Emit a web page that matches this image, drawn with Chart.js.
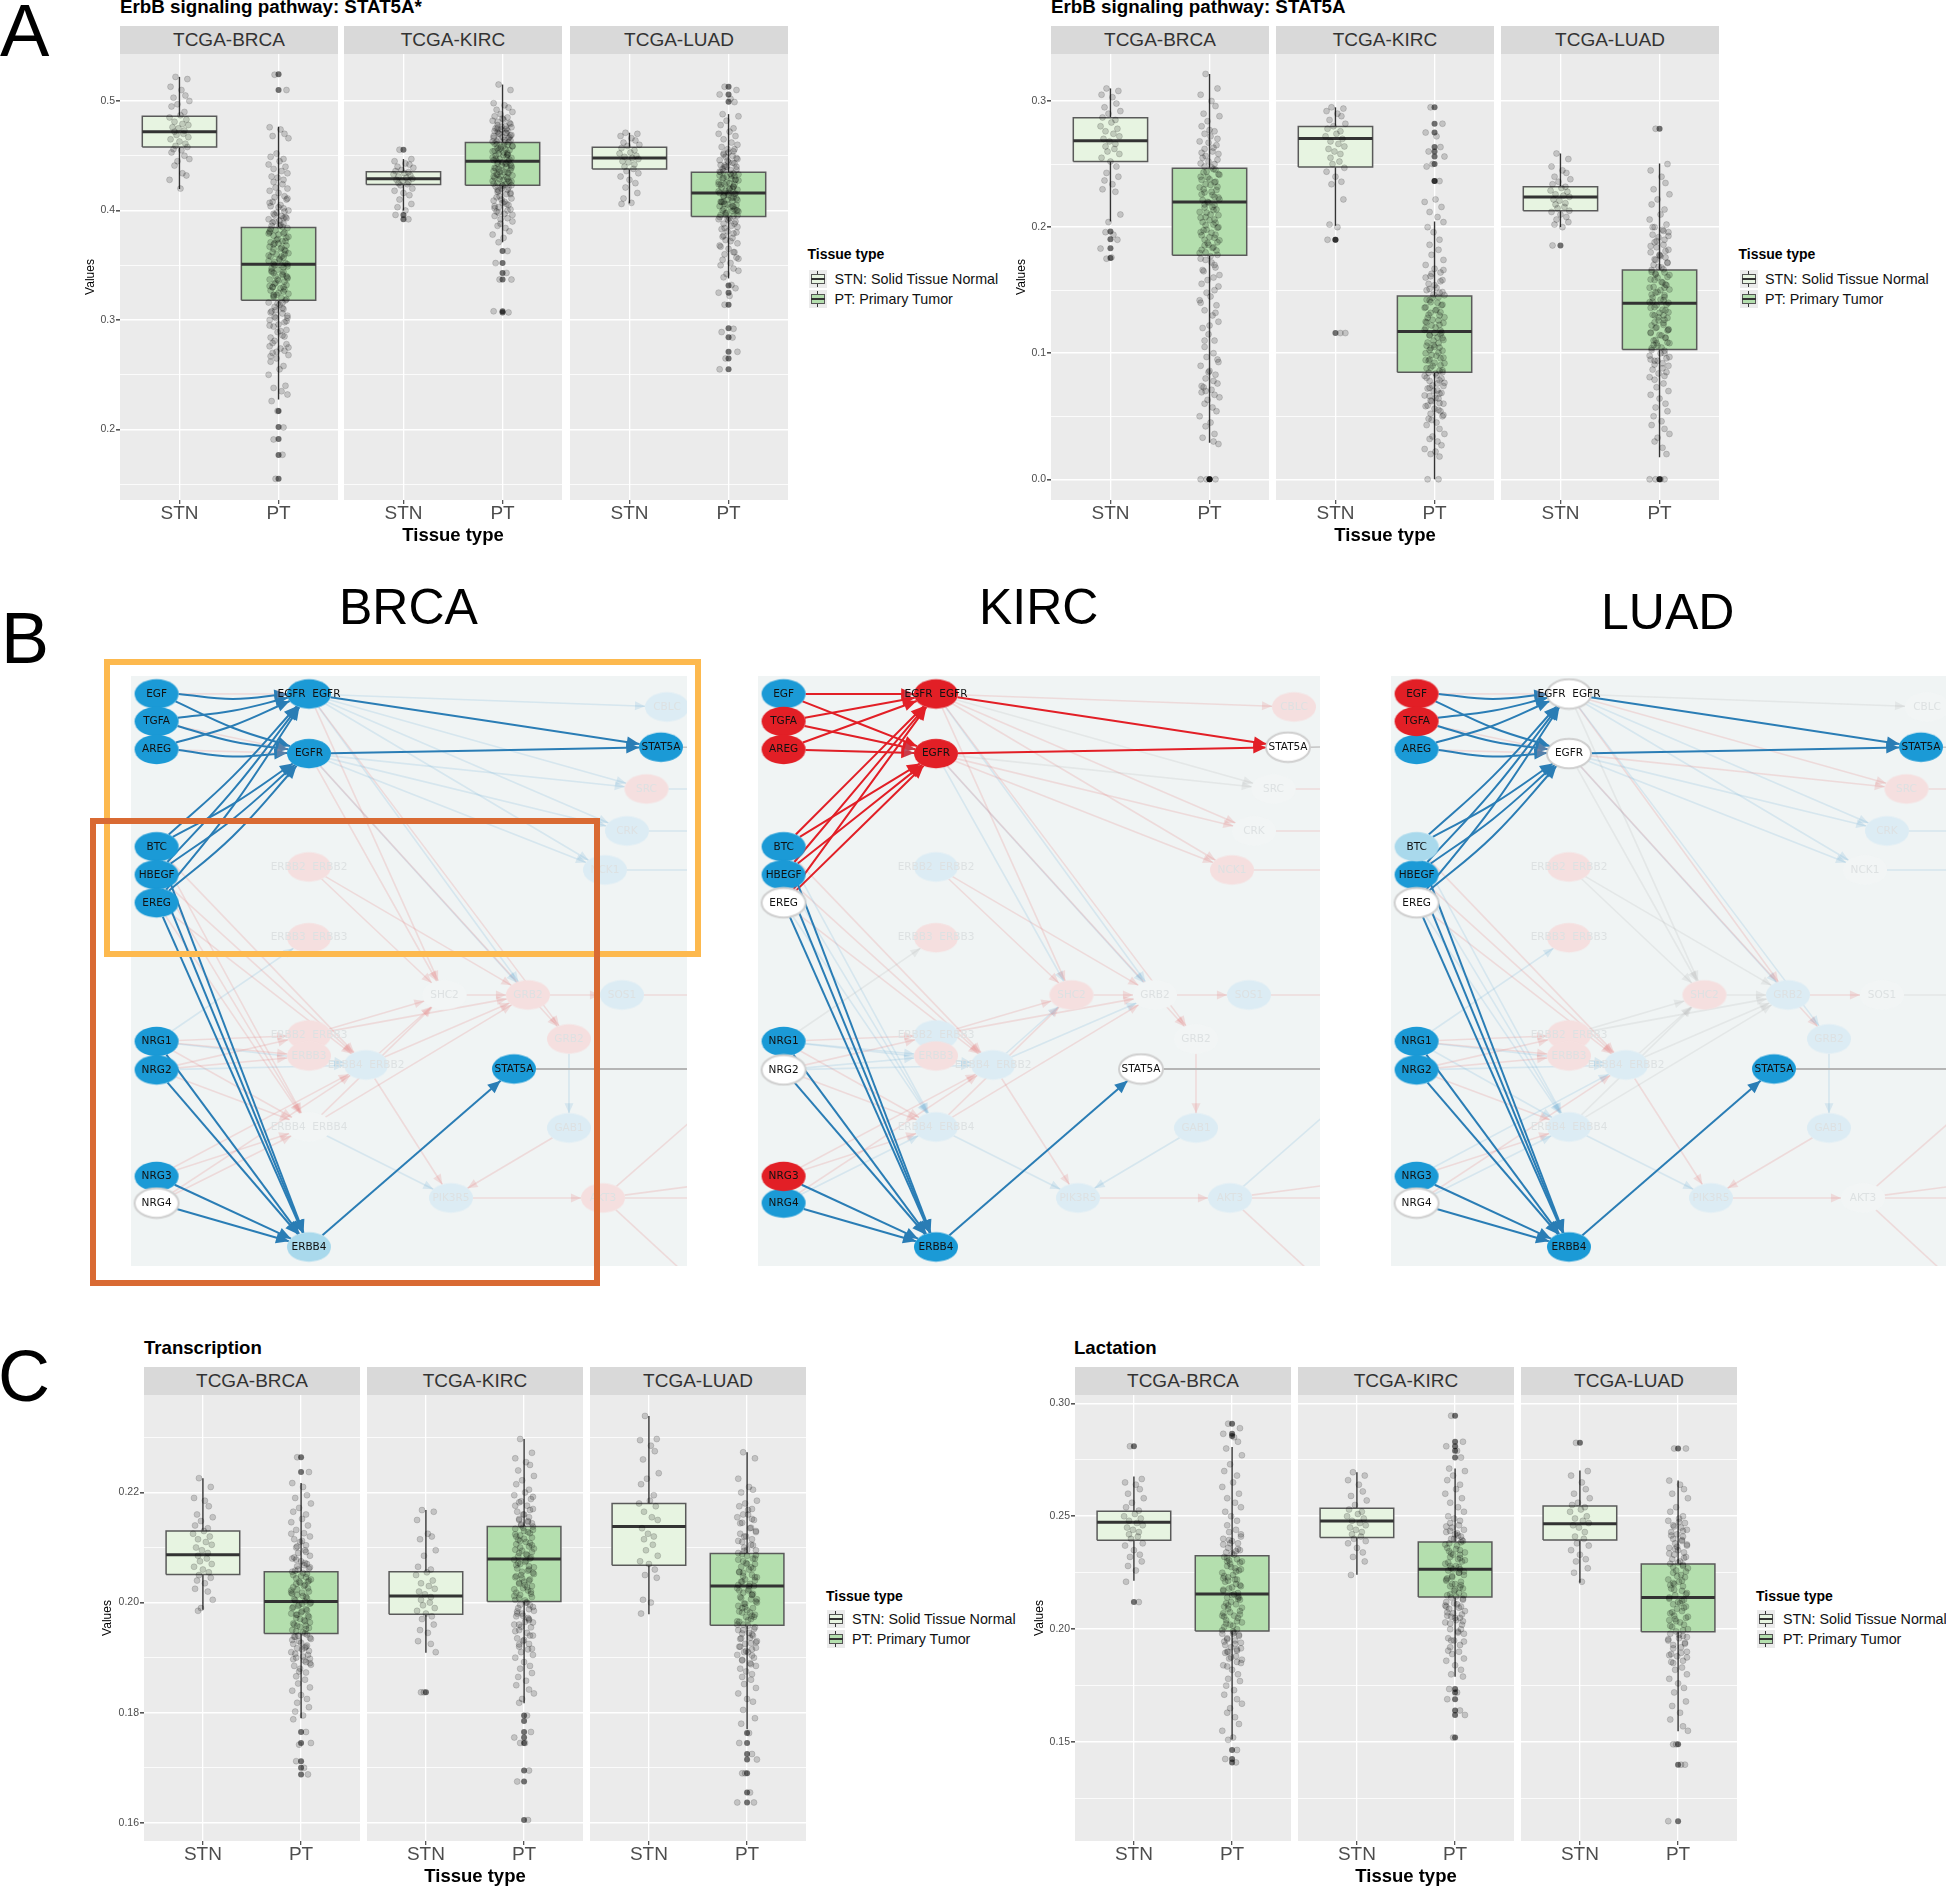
<!DOCTYPE html>
<html>
<head>
<meta charset="utf-8">
<title>ErbB signaling pathway</title>
<script src="https://cdn.jsdelivr.net/npm/chart.js@4"></script>
<style>
  body { margin: 0; background: #fff; }
  #fig { position: relative; width: 1946px; height: 1888px; overflow: hidden; font-family: "Liberation Sans", Arial, sans-serif; }
  #fig canvas { position: absolute; }
  .t { position: absolute; white-space: nowrap; line-height: 1; }
  .strip { position: absolute; background: #d9d9d9; color: #333; text-align: center; font-size: 19px; height: 28px; line-height: 28px; }
  .rect { position: absolute; box-sizing: border-box; border-style: solid; border-width: 6px; }
  .key { position: absolute; width: 18px; height: 18px; background: #ebebeb; }
  .key i { position: absolute; display: block; }
</style>
</head>
<body>
<div id="fig"></div>
<script>
// facet names and axes
const facetNames = ['TCGA-BRCA', 'TCGA-KIRC', 'TCGA-LUAD'];
const xLabels = ['STN', 'PT'];
const legendTitle = 'Tissue type';
const legendItems = ['STN: Solid Tissue Normal', 'PT: Primary Tumor'];

// jitter offsets shared by all the point clouds
const jitter = [-.04,.08,-.09,.02,.06,-.06,.1,-.02,-.08,.05,.01,-.1,.07,-.05,.03,.09,-.07,-.01,.05,-.05,.04,-.03,.09,-.09,.0,.06,-.04,.08,-.06,.02,-.08,.05,.1,-.02,-.05,.03,.07,-.1,.01,-.04,.05,-.07,.04,.09,-.03,-.09,.06,.0,-.05,.08,-.01,.04,-.08];

// box stats are [low whisker, q1, median, q3, high whisker]
// A, ErbB signaling pathway: STAT5A*
const aYTicks = [.2, .3, .4, .5];
const aYLabels = ['0.2', '0.3', '0.4', '0.5'];
const aYMinor = [.15, .25, .35, .45];
const aBrcaStnBox = [.4196, .458, .472, .486, .522];
const aBrcaStnOut = [];
const aBrcaStnPts = [.522,.52,.513,.51,.505,.503,.5,.497,.495,.49,.487,.485,.483,.481,.479,.478,.476,.475,.473,.472,.47,.469,.467,.465,.463,.461,.459,.458,.456,.455,.453,.45,.447,.445,.441,.434,.432,.428,.42];
const aBrcaPtBox = [.2274, .318, .351, .3844, .4765];
const aBrcaPtOut = [.5244, .5101, .2169, .2023, .1915, .1768, .1551];
const aBrcaPtPts = [.524,.51,.476,.474,.47,.468,.466,.452,.449,.447,.445,.442,.44,.438,.436,.434,.431,.43,.428,.426,.424,.421,.42,.418,.416,.413,.412,.41,.408,.405,.404,.402,.4,.398,.397,.395,.394,.392,.391,.39,.388,.386,.385,.384,.382,.381,.38,.378,.377,.375,.374,.372,.371,.37,.368,.367,.365,.364,.362,.361,.36,.358,.357,.355,.354,.352,.351,.35,.349,.347,.346,.344,.343,.342,.34,.339,.337,.336,.335,.333,.332,.33,.329,.327,.326,.324,.323,.321,.32,.318,.316,.314,.312,.31,.308,.306,.304,.302,.3,.298,.296,.294,.291,.289,.286,.284,.281,.278,.276,.274,.272,.27,.268,.265,.262,.258,.255,.25,.24,.238,.235,.232,.226,.217,.202,.191,.177,.155,
  .411,.407,.403,.399,.396,.393,.389,.387,.383,.379,.376,.373,.369,.366,.363,.359,.356,.353,.348,.345,.341,.338,.334,.331,.328,.325,.322,.319,.315,.311,.307,.303,.299,.295,.29,.285,.279,.275,.271,.267,.393,.386,.379,.372,.365,.358,.351,.344,.337,.33,.323,.316,.309,.302,.38,.37,.36,.35,.34,.33];
const aKircStnBox = [.4, .4238, .429, .4355, .447];
const aKircStnOut = [.4555, .396, .392];
const aKircStnPts = [.4555,.447,.445,.443,.442,.44,.439,.437,.436,.435,.434,.433,.432,.431,.43,.429,.428,.427,.426,.425,.424,.423,.42,.418,.416,.414,.41,.406,.403,.4,.396,.392];
const aKircPtBox = [.371, .423, .445, .462, .515];
const aKircPtOut = [.363, .352, .343, .337, .308, .307];
const aKircPtPts = [.515,.51,.498,.496,.494,.492,.49,.488,.486,.485,.483,.482,.48,.478,.477,.476,.475,.474,.473,.472,.471,.47,.469,.468,.467,.466,.465,.464,.463,.462,.461,.46,.459,.458,.457,.456,.455,.454,.453,.452,.451,.45,.449,.448,.447,.446,.445,.444,.443,.442,.441,.44,.439,.438,.437,.436,.435,.434,.433,.432,.431,.43,.429,.428,.427,.426,.425,.424,.423,.422,.42,.419,.417,.415,.413,.411,.409,.407,.405,.403,.401,.399,.397,.395,.393,.39,.388,.386,.384,.381,.378,.375,.371,.363,.352,.343,.337,.337,.308,.307,
  .484,.481,.479,.4765,.4745,.4725,.4705,.4685,.4665,.4645,.4625,.4605,.4585,.4565,.4545,.4525,.4505,.4485,.4465,.4445,.4425,.4405,.4385,.4365,.4345,.4325,.4305,.4285,.4265,.4245,.4225,.421,.418,.416,.412,.408,.404,.4,.396,.392,.475,.471,.467,.463,.459,.455,.451,.447,.443,.439,.435,.431,.427,.423,.419,.415,.41,.406,.402,.398];
const aLuadStnBox = [.4065, .438, .448, .4577, .471];
const aLuadStnOut = [];
const aLuadStnPts = [.471,.47,.468,.466,.464,.462,.46,.459,.457,.455,.453,.452,.45,.449,.448,.447,.445,.444,.442,.44,.438,.436,.434,.431,.428,.425,.421,.416,.411,.407,.406];
const aLuadPtBox = [.338, .3945, .416, .435, .488];
const aLuadPtOut = [.513, .506, .4994, .3316, .325, .314, .2925, .2844, .271, .2648, .2551];
const aLuadPtPts = [.513,.51,.506,.502,.499,.488,.486,.482,.478,.475,.472,.47,.468,.465,.462,.46,.458,.456,.454,.452,.45,.449,.447,.446,.444,.443,.441,.44,.438,.437,.435,.434,.433,.431,.43,.429,.428,.426,.425,.424,.422,.421,.42,.419,.418,.416,.415,.414,.413,.411,.41,.409,.408,.406,.405,.404,.403,.401,.4,.399,.398,.396,.395,.393,.392,.39,.388,.386,.385,.383,.381,.379,.377,.375,.373,.37,.368,.365,.362,.36,.357,.355,.352,.35,.347,.345,.342,.339,.332,.329,.325,.322,.314,.292,.289,.284,.271,.265,.255,
  .456,.453,.451,.448,.4455,.4435,.4415,.4395,.4375,.4355,.4335,.4315,.4295,.4275,.4255,.4235,.4215,.4195,.4175,.4155,.4135,.4115,.4095,.4075,.4055,.4035,.4015,.3995,.3975,.3955,.394,.391,.388,.384,.38,.376,.372,.367,.362,.356,.44,.436,.432,.428,.424,.42,.416,.412,.408,.404,.4,.396,.432,.424,.416,.408,.4,.392];

// A, ErbB signaling pathway: STAT5A
const bYTicks = [0, .1, .2, .3];
const bYLabels = ['0.0', '0.1', '0.2', '0.3'];
const bYMinor = [.05, .15, .25];
const bBrcaStnBox = [.2045, .2521, .2686, .2867, .31];
const bBrcaStnOut = [.1966, .1904, .1833, .1756];
const bBrcaStnPts = [.31,.308,.305,.303,.298,.295,.292,.29,.287,.285,.283,.28,.278,.276,.274,.272,.27,.268,.266,.264,.262,.26,.258,.255,.252,.248,.243,.24,.237,.234,.23,.228,.21,.204,.196,.194,.19,.183,.176,.175];
const bBrcaPtBox = [.029, .1776, .22, .2467, .3215];
const bBrcaPtOut = [0, 0, 0];
const bBrcaPtPts = [.3215,.31,.305,.3,.296,.29,.288,.284,.28,.276,.272,.268,.265,.262,.26,.258,.255,.252,.25,.248,.246,.244,.242,.24,.238,.236,.234,.232,.23,.228,.226,.224,.222,.22,.218,.216,.214,.212,.21,.208,.206,.204,.202,.2,.198,.196,.194,.192,.19,.188,.186,.184,.182,.18,.178,.175,.172,.168,.165,.162,.158,.155,.15,.145,.142,.138,.134,.13,.125,.12,.115,.11,.105,.1,.097,.093,.09,.086,.083,.08,.076,.073,.071,.069,.067,.065,.063,.06,.057,.054,.05,.045,.042,.036,.033,.03,.028,0,0,0,
  .277,.274,.27,.267,.263,.259,.2565,.2535,.2505,.2475,.2455,.2435,.2415,.2395,.2375,.2355,.2335,.2315,.2295,.2275,.2255,.2235,.2215,.2195,.2175,.2155,.2135,.2115,.2095,.2075,.2055,.2035,.2015,.1995,.1975,.1955,.1935,.1915,.1895,.1875,.1855,.1835,.1815,.1795,.177,.174,.17,.166,.16,.153,.148,.14,.132,.122,.11,.095,.085,.078,.074,.07];
const bKircStnBox = [.2011, .2476, .2703, .2799, .295];
const bKircStnOut = [.19, .19, .116];
const bKircStnPts = [.295,.294,.292,.29,.288,.285,.282,.28,.278,.276,.274,.272,.27,.268,.266,.264,.262,.26,.258,.255,.252,.25,.247,.244,.24,.236,.234,.222,.202,.2,.19,.116,.116];
const bKircPtBox = [0, .085, .1173, .1453, .2045];
const bKircPtOut = [.295, .282, .275, .2635, .26, .256, .25, .2365, .2365];
const bKircPtPts = [.295,.282,.275,.272,.2635,.26,.256,.25,.248,.2365,.222,.22,.216,.212,.208,.204,.2,.196,.19,.186,.182,.178,.174,.17,.167,.164,.161,.158,.155,.152,.15,.148,.146,.144,.142,.14,.138,.136,.134,.132,.13,.128,.126,.124,.122,.12,.118,.116,.114,.112,.11,.108,.106,.104,.102,.1,.098,.096,.094,.092,.09,.088,.086,.084,.082,.08,.078,.076,.074,.072,.07,.068,.066,.064,.062,.06,.058,.056,.054,.052,.05,.048,.045,.043,.04,.036,.034,.032,.03,.027,.024,.022,.02,.018,0,0,
  .166,.163,.16,.157,.154,.151,.1485,.1465,.1445,.1425,.1405,.1385,.1365,.1345,.1325,.1305,.1285,.1265,.1245,.1225,.1205,.1185,.1165,.1145,.1125,.1105,.1085,.1065,.1045,.1025,.1005,.0985,.0965,.0945,.0925,.0905,.0885,.0865,.0845,.0825,.0805,.0785,.0765,.0745,.0725,.0705,.0685,.0665,.0645,.0625,.0605,.0585,.055,.051,.047,.125,.115,.105,.095,.085];
const bLuadStnBox = [.2, .213, .2238, .232, .2584];
const bLuadStnOut = [.1855];
const bLuadStnPts = [.2584,.254,.248,.245,.243,.24,.238,.236,.234,.232,.231,.229,.228,.226,.225,.224,.222,.221,.219,.218,.216,.215,.213,.212,.21,.208,.206,.204,.202,.2,.1855];
const bLuadPtBox = [.0176, .103, .1397, .166, .2504];
const bLuadPtOut = [.278, 0, 0];
const bLuadPtPts = [.278,.25,.245,.24,.235,.23,.226,.222,.218,.214,.21,.206,.202,.2,.198,.196,.194,.192,.19,.188,.186,.184,.182,.18,.178,.176,.174,.172,.17,.168,.166,.164,.162,.16,.158,.156,.154,.152,.15,.148,.146,.144,.142,.14,.138,.136,.134,.132,.13,.128,.126,.124,.122,.12,.118,.116,.114,.112,.11,.108,.106,.104,.102,.1,.098,.096,.094,.092,.09,.087,.084,.082,.079,.076,.073,.07,.067,.064,.06,.057,.054,.05,.046,.043,.04,.036,.033,.03,.025,.02,0,0,0,0,
  .2,.197,.193,.189,.185,.181,.1775,.1745,.1715,.1685,.1665,.1645,.1625,.1605,.1585,.1565,.1545,.1525,.1505,.1485,.1465,.1445,.1425,.1405,.1385,.1365,.1345,.1325,.1305,.1285,.1265,.1245,.1225,.1205,.1185,.1165,.1145,.1125,.1105,.1085,.1065,.1045,.1025,.1,.097,.094,.091,.088,.085,.081,.177,.163,.152,.141,.13,.119,.108,.095];

// C, Transcription
const cYTicks = [.16, .18, .2, .22];
const cYLabels = ['0.16', '0.18', '0.20', '0.22'];
const cYMinor = [.17, .19, .21, .23];
const cBrcaStnBox = [.1987, .2051, .2087, .213, .2226];
const cBrcaStnOut = [];
const cBrcaStnPts = [.2226,.221,.219,.2185,.2175,.216,.2155,.2148,.214,.2135,.213,.2125,.212,.2115,.211,.2105,.21,.2095,.209,.2085,.208,.2075,.207,.2065,.206,.2055,.205,.2045,.204,.2035,.2025,.202,.2005,.199,.1985];
const cBrcaPtBox = [.179, .1944, .2002, .2056, .2217];
const cBrcaPtOut = [.2264, .2237, .1765, .1745, .1712, .17, .1688];
const cBrcaPtPts = [.2264,.2237,.2217,.221,.2195,.219,.218,.2172,.2165,.216,.2152,.2146,.214,.2132,.2126,.212,.2115,.211,.2104,.21,.2095,.209,.2085,.208,.2075,.207,.2066,.2062,.2058,.2054,.205,.2046,.2042,.2038,.2034,.203,.2026,.2022,.2018,.2014,.201,.2006,.2002,.1998,.1994,.199,.1986,.1982,.1978,.1974,.197,.1966,.1962,.1958,.1954,.195,.1946,.1942,.1938,.1934,.193,.1925,.192,.1915,.191,.1905,.19,.1895,.189,.1885,.188,.1873,.1866,.186,.1853,.1846,.184,.1832,.1825,.1818,.181,.1802,.1795,.1788,.1765,.1745,.1742,.1712,.17,.1688,
  .2125,.2112,.2102,.2092,.2082,.2072,.2064,.206,.2056,.2052,.2048,.2044,.204,.2036,.2032,.2028,.2024,.202,.2016,.2012,.2008,.2004,.2,.1996,.1992,.1988,.1984,.198,.1976,.1972,.1968,.1964,.196,.1956,.1952,.1948,.1944,.194,.1936,.1932,.1927,.1922,.1917,.1912,.1907,.1902,.1897,.1892,.1887,.1875,.2078,.2068,.2038,.2018,.1998,.1978,.1958,.1938,.1918,.1898];
const cKircStnBox = [.1909, .1979, .2012, .2056, .2168];
const cKircStnOut = [.1837];
const cKircStnPts = [.2168,.2165,.215,.2125,.212,.2115,.2095,.2085,.2065,.206,.2055,.205,.204,.2035,.203,.2025,.202,.2015,.201,.2005,.2,.1995,.199,.1985,.198,.1975,.197,.196,.195,.1945,.193,.1925,.191,.1837,.1837];
const cKircPtBox = [.1817, .2002, .2079, .2138, .2297];
const cKircPtOut = [.1795, .1785, .1765, .1755, .1745, .1695, .1675, .1605];
const cKircPtPts = [.2297,.2272,.2262,.2255,.225,.224,.223,.2222,.2215,.2205,.22,.2195,.2188,.2182,.2176,.217,.2165,.216,.2155,.215,.2146,.2142,.2138,.2134,.213,.2126,.2122,.2118,.2114,.211,.2106,.2102,.2098,.2094,.209,.2086,.2082,.2078,.2074,.207,.2066,.2062,.2058,.2054,.205,.2046,.2042,.2038,.2034,.203,.2026,.2022,.2018,.2014,.201,.2005,.2,.1995,.199,.1985,.198,.1975,.197,.1965,.196,.1955,.195,.1945,.194,.1935,.193,.1925,.192,.1915,.191,.1905,.19,.1892,.1885,.188,.1872,.1865,.1858,.185,.1842,.1835,.1825,.1818,.1795,.1765,.1755,.1745,.1745,.1695,.1675,.1605,
  .2192,.2184,.2176,.2168,.216,.2152,.2144,.2136,.2128,.212,.2112,.2104,.2096,.2088,.208,.2072,.2064,.2056,.2048,.204,.2032,.2024,.2016,.2008,.2,.1992,.1984,.1976,.1968,.196,.2148,.214,.2132,.2124,.2116,.2108,.21,.2092,.2084,.2076,.2068,.206,.2052,.2044,.2036,.2028,.202,.2012,.2004,.1996,.1988,.198,.1972,.1964,.1956,.1948,.194,.1932,.1924,.1916];
const cLuadStnBox = [.1979, .2068, .2138, .218, .2339];
const cLuadStnOut = [];
const cLuadStnPts = [.2339,.2297,.2295,.2285,.2275,.226,.2235,.2225,.2215,.2195,.2185,.218,.2175,.2165,.2155,.215,.2135,.2125,.212,.2115,.2105,.2095,.2085,.2075,.207,.206,.205,.2045,.2005,.2,.198];
const cLuadPtBox = [.177, .1959, .203, .2089, .2273];
const cLuadPtOut = [.1763, .1745, .1725, .1715, .169, .1655, .1637];
const cLuadPtPts = [.2273,.2262,.2225,.221,.2205,.22,.2185,.218,.2175,.217,.216,.2155,.215,.2145,.2135,.213,.2125,.212,.2115,.211,.2105,.21,.2095,.209,.2085,.208,.2075,.207,.2065,.206,.2055,.205,.2046,.2042,.2038,.2034,.203,.2026,.2022,.2018,.2014,.201,.2006,.2002,.1998,.1994,.199,.1986,.1982,.1978,.1974,.197,.1965,.196,.1955,.195,.1945,.194,.1935,.193,.1925,.192,.1915,.191,.1905,.19,.1895,.189,.1885,.188,.1875,.187,.1865,.186,.1852,.1845,.1835,.1825,.182,.1805,.179,.178,.1763,.1745,.1725,.1715,.169,.169,.1655,.1637,.1637,
  .2168,.216,.2152,.2144,.2136,.2128,.212,.2112,.2104,.2096,.2088,.208,.2072,.2064,.2056,.2048,.204,.2032,.2024,.2016,.2008,.2,.1992,.1984,.1976,.1968,.196,.1952,.1944,.1936,.1928,.192,.1912,.1904,.1896,.1888,.2094,.2086,.2078,.207,.2062,.2054,.2046,.2038,.203,.2022,.2014,.2006,.1998,.199,.1982,.1974,.1966,.1958,.195,.1942,.1934,.1926,.1918,.191];

// C, Lactation
const dYTicks = [.15, .2, .25, .3];
const dYLabels = ['0.15', '0.20', '0.25', '0.30'];
const dYMinor = [.125, .175, .225, .275];
const dBrcaStnBox = [.2214, .2394, .2474, .2522, .2676];
const dBrcaStnOut = [.281, .212];
const dBrcaStnPts = [.281,.2665,.265,.264,.262,.26,.258,.256,.254,.2525,.251,.25,.249,.248,.247,.246,.245,.244,.243,.242,.241,.24,.238,.237,.235,.233,.232,.23,.228,.226,.221,.212];
const dBrcaPtBox = [.1511, .1992, .2156, .2325, .2807];
const dBrcaPtOut = [.291, .2865, .2855, .1465, .1425, .141];
const dBrcaPtPts = [.291,.289,.2865,.285,.283,.28,.277,.273,.27,.268,.265,.263,.26,.258,.256,.254,.252,.25,.248,.246,.244,.243,.241,.24,.239,.238,.236,.235,.234,.233,.232,.231,.23,.229,.228,.227,.226,.225,.224,.223,.222,.221,.22,.219,.218,.217,.216,.215,.214,.213,.212,.211,.21,.209,.208,.207,.206,.205,.204,.203,.202,.201,.2,.199,.198,.197,.196,.195,.194,.193,.192,.191,.19,.188,.187,.185,.184,.182,.18,.178,.177,.175,.173,.171,.169,.167,.165,.163,.161,.158,.155,.152,.151,.1465,.1425,.141,
  .242,.2395,.2375,.2355,.2335,.2315,.2295,.2275,.2255,.2235,.2215,.2195,.2175,.2155,.2135,.2115,.2095,.2075,.2055,.2035,.2015,.1995,.1975,.1955,.1935,.1915,.1895,.1875,.1855,.1835,.2345,.2305,.2265,.2225,.2185,.2145,.2105,.2065,.2025,.1985,.1945,.1905,.1865,.238,.23,.222,.214,.206,.198,.19];
const dKircStnBox = [.2241, .2406, .2479, .2535, .2695];
const dKircStnOut = [];
const dKircStnPts = [.2695,.268,.266,.264,.261,.259,.257,.255,.253,.252,.251,.25,.249,.248,.247,.246,.245,.244,.243,.242,.241,.24,.239,.238,.236,.234,.232,.23,.224];
const dKircPtBox = [.1789, .2142, .2265, .2386, .2711];
const dKircPtOut = [.2945, .283, .281, .279, .276, .1735, .172, .169, .164, .162, .152];
const dKircPtPts = [.2945,.283,.281,.279,.276,.2711,.27,.268,.266,.264,.262,.26,.258,.256,.254,.252,.25,.249,.248,.247,.246,.245,.244,.243,.242,.241,.24,.239,.238,.237,.236,.235,.234,.233,.232,.231,.23,.229,.228,.227,.2265,.226,.225,.224,.223,.222,.221,.22,.219,.218,.217,.216,.215,.214,.213,.212,.211,.21,.209,.208,.207,.206,.205,.204,.203,.202,.2,.199,.198,.196,.195,.193,.192,.19,.189,.187,.186,.184,.182,.18,.179,.1735,.172,.169,.164,.162,.152,
  .2435,.2415,.2395,.2375,.2355,.2335,.2315,.2295,.2275,.2255,.2235,.2215,.2195,.2175,.2155,.2135,.2115,.2095,.2075,.2055,.2035,.2455,.2425,.2385,.2345,.2305,.2265,.2225,.2185,.2145,.2105,.2065,.2025,.1985,.1945,.1905,.24,.233,.228,.225,.22,.215,.21,.205,.2,.195];
const dLuadStnBox = [.2206, .2395, .2467, .2546, .2703];
const dLuadStnOut = [.2825];
const dLuadStnPts = [.2825,.27,.268,.265,.262,.26,.258,.256,.255,.254,.253,.252,.25,.249,.248,.247,.246,.245,.243,.241,.24,.238,.237,.235,.233,.231,.23,.227,.225,.221];
const dLuadPtBox = [.1548, .1989, .214, .2289, .2658];
const dLuadPtOut = [.28, .149, .14, .115];
const dLuadPtPts = [.28,.28,.2658,.264,.262,.26,.258,.254,.252,.25,.249,.248,.247,.246,.245,.244,.243,.242,.241,.24,.239,.238,.237,.236,.235,.234,.233,.232,.231,.23,.229,.228,.227,.226,.225,.224,.223,.222,.221,.22,.219,.218,.217,.216,.215,.214,.213,.212,.211,.21,.209,.208,.207,.206,.205,.204,.203,.202,.201,.2,.199,.198,.197,.196,.195,.194,.193,.192,.19,.189,.188,.186,.185,.183,.182,.18,.178,.176,.174,.172,.168,.166,.163,.16,.157,.155,.149,.149,.14,.14,.115,
  .2475,.2455,.2435,.2415,.2395,.2375,.2355,.2335,.2315,.2295,.2275,.2255,.2235,.2215,.2195,.2175,.2155,.2135,.2115,.2095,.2075,.2055,.2035,.2015,.1995,.1975,.1955,.1935,.1915,.1895,.1875,.1855,.2365,.2285,.2205,.2125,.2045,.1965,.1885];

// B, pathway layout (the same layout in all three panels)
const nodeKeys = ['EGF','TGFA','AREG','BTC','HBEGF','EREG','NRG1','NRG2','NRG3','NRG4','D1','EGFR','S1','E22','E33','SHC2','GRB2a','SOS1','E23','E3','E42','GRB2b','S2','E44','GAB1','PIK','AKT3','ERBB4','CBLC','SRC','CRK','NCK1','O1','O2','O3','O4','O5','O6','O7','O8','O9','O10'];
const nodeLabels = ['EGF','TGFA','AREG','BTC','HBEGF','EREG','NRG1','NRG2','NRG3','NRG4','EGFR  EGFR','EGFR','STAT5A','ERBB2  ERBB2','ERBB3  ERBB3','SHC2','GRB2','SOS1','ERBB2  ERBB3','ERBB3','ERBB4  ERBB2','GRB2','STAT5A','ERBB4  ERBB4','GAB1','PIK3R5','AKT3','ERBB4','CBLC','SRC','CRK','NCK1'];
const nodeX = [25.6,25.6,25.6,25.6,25.6,25.6,25.6,25.6,25.6,25.6,178,178,530,178,178,313.5,397,491,178,178,235,438,383,178,438,320,472,178,536,515.5,496,474,600,600,600,600,600,600,600,600,600,600];
const nodeY = [17.9,45.5,73.5,170.8,198.8,226.8,365.5,393.9,500.4,527.1,18,77.6,71.2,191,261.7,319,319,319,359,380,389,363,393,451,452,522,522,571,31,113,155,194,319,155,194,113,410,640,505,522,393,71];
// B=blue R=red W=white L=light blue, b r n = the faded blue, pink and neutral
const brcaNodes = 'BBBBBBBBBWBBBrrnrbrrbrBnbbrLbrbb';
const kircNodes = 'BRRBBWBWRBRRWbrrnbbrbnWbbbbBrnnr';
const luadNodes = 'RRBLBWBBBWWWBrrrbnrrbbBbbbnBnrbn';
const strongEgfr = [['EGF','D1',5],['TGFA','D1',3],['AREG','D1',4],['BTC','D1',6],['HBEGF','D1',6],['EREG','D1',8],['EGF','EGFR',4],['TGFA','EGFR',4],['AREG','EGFR',5],['BTC','EGFR',4],['HBEGF','EGFR',5],['EREG','EGFR',8],['D1','S1',0],['EGFR','S1',0]];
const strongErbb4 = [['BTC','ERBB4'],['HBEGF','ERBB4'],['EREG','ERBB4'],['NRG1','ERBB4'],['NRG2','ERBB4'],['NRG3','ERBB4'],['NRG4','ERBB4'],['ERBB4','S2']];
const fadedEdges = [['BTC','E42'],['HBEGF','E42'],['EREG','E42'],['BTC','E44'],['HBEGF','E44'],['EREG','E44'],['NRG1','E23'],['NRG1','E3'],['NRG1','E42'],['NRG1','E44'],['NRG2','E23'],['NRG2','E3'],['NRG2','E42'],['NRG2','E44'],['NRG3','E42'],['NRG3','E44'],['NRG4','E42'],['NRG4','E44'],['NRG1','E33'],['D1','SHC2'],['D1','GRB2a'],['D1','GRB2b'],['EGFR','SHC2'],['EGFR','GRB2a'],['EGFR','GRB2b'],['D1','CBLC'],['D1','SRC'],['D1','CRK'],['D1','NCK1'],['EGFR','SRC'],['EGFR','CRK'],['EGFR','NCK1'],['E22','SHC2'],['E22','GRB2a'],['E23','SHC2'],['E23','GRB2a'],['E42','SHC2'],['E42','GRB2a'],['E44','SHC2'],['E44','GRB2a'],['E42','PIK'],['E44','PIK'],['GRB2b','GAB1'],['GAB1','PIK'],['SHC2','GRB2a'],['GRB2a','SOS1'],['PIK','AKT3'],['SOS1','O1'],['CRK','O2'],['NCK1','O3'],['SRC','O4'],['AKT3','O5'],['AKT3','O6'],['AKT3','O7'],['AKT3','O8'],['EGF','D1'],['TGFA','EGFR'],['AREG','EGFR']];
const brcaFaded = 'rrrrrrrrbrrrbrrrrrb'+'rbrrbr'+'bbbbbbb'+'rrrrrrrr'+'rbbrrrr'+'rbbbrrrr'+'rrr';
const kircFaded = 'rrrbbbrbbrrbbrrrrbg'+'rbrbbr'+'rgrrgrr'+'rrrrbbrr'+'rbrbrrr'+'rrrrbrrr'+'bbb';
const luadFaded = 'rrrbbbrrbbrrbrbrrbb'+'grbgbr'+'grbbrbb'+'gggggggg'+'rbbrgrr'+'gbbrrrrr'+'rrr';

const FONT = '"Liberation Sans", Arial, sans-serif';
const fig = document.getElementById('fig');

function txt(x, base, str, size, o = {}) {
    const d = document.createElement('div');
    d.className = 't';
    d.textContent = str;
    d.style.left = x + 'px';
    d.style.top = (base - 0.8465 * size) + 'px';
    d.style.fontSize = size + 'px';
    if (o.bold) d.style.fontWeight = 'bold';
    d.style.color = o.color || '#000';
    fig.appendChild(d);
}

function addCanvas(x, y, w, h) {
    const c = document.createElement('canvas');
    c.width = w; c.height = h;
    c.style.left = x + 'px'; c.style.top = y + 'px';
    c.style.width = w + 'px'; c.style.height = h + 'px';
    fig.appendChild(c);
    return c;
}

const panelBg = {
    id: 'panelBg',
    beforeDraw(chart, args, opts) {
        const a = chart.chartArea;
        chart.ctx.fillStyle = opts.color;
        chart.ctx.fillRect(a.left, a.top, a.right - a.left, a.bottom - a.top);
    }
};

const baseOptions = {
    responsive: false,
    animation: false,
    events: [],
    layout: { autoPadding: false, padding: 0 }
};

function boxDatasets(center, box, pts, out, fill) {
    const [low, q1, med, q3, high] = box;
    const l = center - 0.375, r = center + 0.375;
    const sets = [];
    sets.push({ data: [{ x: center, y: low }, { x: center, y: high }], showLine: true, pointRadius: 0, borderColor: '#333', borderWidth: 1.4 });
    sets.push({ data: [{ x: l, y: q1 }, { x: r, y: q1 }, { x: r, y: q3 }, { x: l, y: q3 }, { x: l, y: q1 }], showLine: true, pointRadius: 0, fill: 'shape', backgroundColor: fill, borderColor: '#5a5a5a', borderWidth: 1.5 });
    sets.push({ data: [{ x: l, y: med }, { x: r, y: med }], showLine: true, pointRadius: 0, borderColor: '#333', borderWidth: 3 });
    sets.push({ data: out.map(v => ({ x: center, y: v })), pointRadius: 3, pointBackgroundColor: 'rgba(0,0,0,.55)', pointBorderWidth: 0 });
    sets.push({ data: pts.map((v, i) => ({ x: center + jitter[i % jitter.length], y: v })), pointRadius: 3, pointBackgroundColor: 'rgba(0,0,0,.17)', pointBorderColor: 'rgba(0,0,0,.2)', pointBorderWidth: 0.7 });
    return sets;
}

function drawFacet(p, idx) {
    const f = p.facets[idx];
    const first = idx === 0;
    const left = first ? p.yAxisWidth : 0;
    const x = p.lefts[idx] - left;
    const plotH = p.bottom - p.top;
    const canvas = addCanvas(x, p.top, p.width + left, plotH + 51);
    const datasets = [
        ...boxDatasets(1, f.stn[0], f.stn[2], f.stn[1], '#e7f4e1'),
        ...boxDatasets(2, f.pt[0], f.pt[2], f.pt[1], '#b4dfae')
    ].reverse(); // Chart.js paints the first dataset last
    new Chart(canvas, {
        type: 'scatter',
        data: { datasets },
        plugins: [panelBg],
        options: {
            ...baseOptions,
            plugins: { legend: { display: false }, tooltip: { enabled: false }, panelBg: { color: '#ebebeb' } },
            scales: {
                x: {
                    type: 'linear', min: 0.4, max: 2.6,
                    afterBuildTicks: s => { s.ticks = [{ value: 1 }, { value: 2 }]; },
                    afterFit: s => { s.height = 51; },
                    grid: { color: '#fff', lineWidth: 1.3, tickLength: 4, tickColor: '#555' },
                    border: { display: false },
                    ticks: { callback: v => xLabels[v - 1], color: '#4d4d4d', font: { family: FONT, size: 19, lineHeight: 1 }, padding: 0, maxRotation: 0, autoSkip: false },
                    title: { display: idx === 1, text: 'Tissue type', color: '#000', font: { family: FONT, size: 18.5, weight: 'bold' } }
                },
                y: {
                    type: 'linear', min: p.yMin, max: p.yMax,
                    afterBuildTicks: s => { s.ticks = [...p.yTicks.map(v => ({ value: v, major: true })), ...p.yMinor.map(v => ({ value: v }))]; },
                    // fixed width, and no label overhang: the plot area has to fill the canvas up to its top
                    afterFit: s => { s.width = left; s.paddingTop = 0; s.paddingBottom = 0; },
                    grid: {
                        color: '#fff',
                        lineWidth: c => (c.tick && c.tick.major ? 1.6 : 0.8),
                        tickLength: 4,
                        drawTicks: first,
                        tickColor: c => (c.tick && c.tick.major ? '#555' : 'rgba(0,0,0,0)')
                    },
                    border: { display: false },
                    ticks: {
                        display: first,
                        autoSkip: false,
                        padding: 1,
                        color: '#4d4d4d',
                        font: { family: FONT, size: 10.5 },
                        callback: v => { const i = p.yTicks.findIndex(t => Math.abs(t - v) < 1e-9); return i >= 0 ? p.yLabels[i] : ''; }
                    },
                    title: { display: first, text: 'Values', color: '#000', font: { family: FONT, size: 12 }, padding: { top: 3, bottom: 0 } }
                }
            }
        }
    });
    const s = document.createElement('div');
    s.className = 'strip';
    s.textContent = facetNames[idx];
    s.style.left = p.lefts[idx] + 'px';
    s.style.top = (p.top - 28) + 'px';
    s.style.width = p.width + 'px';
    fig.appendChild(s);
}

function drawLegend(x, textX, baseTitle, base1, base2) {
    txt(x, baseTitle, legendTitle, 14, { bold: true });
    [[base1, '#e7f4e1'], [base2, '#b4dfae']].forEach(([b, fill], i) => {
        const k = document.createElement('div');
        k.className = 'key';
        k.style.left = (x + 1) + 'px';
        k.style.top = (b - 14) + 'px';
        k.innerHTML = '<i style="left:8px;top:1px;width:1px;height:16px;background:#333"></i>' +
            `<i style="left:2px;top:4px;width:12px;height:8px;background:${fill};border:1px solid #555"></i>` +
            '<i style="left:2px;top:8px;width:14px;height:2px;background:#333"></i>';
        fig.appendChild(k);
        txt(textX, b, legendItems[i], 14.3, { color: '#111' });
    });
}

const panels = [
    { title: 'ErbB signaling pathway: STAT5A*', titleX: 120, titleBase: 14, titleSize: 18.8, lefts: [120, 344, 570], width: 218, top: 54, bottom: 500, yAxisWidth: 40, yMin: .1357, yMax: .5429, yTicks: aYTicks, yLabels: aYLabels, yMinor: aYMinor,
      facets: [
        { stn: [aBrcaStnBox, aBrcaStnOut, aBrcaStnPts], pt: [aBrcaPtBox, aBrcaPtOut, aBrcaPtPts] },
        { stn: [aKircStnBox, aKircStnOut, aKircStnPts], pt: [aKircPtBox, aKircPtOut, aKircPtPts] },
        { stn: [aLuadStnBox, aLuadStnOut, aLuadStnPts], pt: [aLuadPtBox, aLuadPtOut, aLuadPtPts] }
      ], legend: [807.5, 834.5, 259, 284, 304] },
    { title: 'ErbB signaling pathway: STAT5A', titleX: 1051, titleBase: 14, titleSize: 18.8, lefts: [1051, 1276, 1501], width: 218, top: 54, bottom: 500, yAxisWidth: 40, yMin: -.0164, yMax: .3373, yTicks: bYTicks, yLabels: bYLabels, yMinor: bYMinor,
      facets: [
        { stn: [bBrcaStnBox, bBrcaStnOut, bBrcaStnPts], pt: [bBrcaPtBox, bBrcaPtOut, bBrcaPtPts] },
        { stn: [bKircStnBox, bKircStnOut, bKircStnPts], pt: [bKircPtBox, bKircPtOut, bKircPtPts] },
        { stn: [bLuadStnBox, bLuadStnOut, bLuadStnPts], pt: [bLuadPtBox, bLuadPtOut, bLuadPtPts] }
      ], legend: [1738.5, 1765, 259, 284, 304] },
    { title: 'Transcription', titleX: 144, titleBase: 1354.5, titleSize: 18.6, lefts: [144, 367, 590], width: 216, top: 1395, bottom: 1841, yAxisWidth: 47, yMin: .1567, yMax: .2377, yTicks: cYTicks, yLabels: cYLabels, yMinor: cYMinor,
      facets: [
        { stn: [cBrcaStnBox, cBrcaStnOut, cBrcaStnPts], pt: [cBrcaPtBox, cBrcaPtOut, cBrcaPtPts] },
        { stn: [cKircStnBox, cKircStnOut, cKircStnPts], pt: [cKircPtBox, cKircPtOut, cKircPtPts] },
        { stn: [cLuadStnBox, cLuadStnOut, cLuadStnPts], pt: [cLuadPtBox, cLuadPtOut, cLuadPtPts] }
      ], legend: [826, 852, 1601, 1624, 1644] },
    { title: 'Lactation', titleX: 1074, titleBase: 1354.5, titleSize: 18.6, lefts: [1075, 1298, 1521], width: 216, top: 1395, bottom: 1841, yAxisWidth: 46, yMin: .1062, yMax: .3037, yTicks: dYTicks, yLabels: dYLabels, yMinor: dYMinor,
      facets: [
        { stn: [dBrcaStnBox, dBrcaStnOut, dBrcaStnPts], pt: [dBrcaPtBox, dBrcaPtOut, dBrcaPtPts] },
        { stn: [dKircStnBox, dKircStnOut, dKircStnPts], pt: [dKircPtBox, dKircPtOut, dKircPtPts] },
        { stn: [dLuadStnBox, dLuadStnOut, dLuadStnPts], pt: [dLuadPtBox, dLuadPtOut, dLuadPtPts] }
      ], legend: [1756, 1783, 1601, 1624, 1644] }
];

panels.forEach(p => {
    txt(p.titleX, p.titleBase, p.title, p.titleSize, { bold: true });
    [0, 1, 2].forEach(i => drawFacet(p, i));
    drawLegend(...p.legend);
});

// network panels
const RX = 22, RY = 14.7;
const nodeStyles = {
    B: ['#1b9ad6', null], R: ['#e21f26', null], W: ['#fff', '#cfcfcf'], L: ['#a9d9ec', null],
    b: ['#dcecf4', null], r: ['#f5dfdf', null], n: ['#f2f5f5', null]
};
function ellipseSprite(fill, stroke) {
    const c = document.createElement('canvas');
    c.width = 2 * RX + 4; c.height = 2 * RY + 4;
    const g = c.getContext('2d');
    g.beginPath();
    g.ellipse(c.width / 2, c.height / 2, RX, RY, 0, 0, Math.PI * 2);
    g.fillStyle = fill;
    g.fill();
    if (stroke) { g.strokeStyle = stroke; g.lineWidth = 2; g.stroke(); }
    return c;
}
const fadedColor = { r: 'rgba(228,140,140,.24)', b: 'rgba(110,175,215,.2)', g: 'rgba(170,170,170,.18)' };
const nodeAt = k => { const i = nodeKeys.indexOf(k); return { x: nodeX[i], y: nodeY[i] }; };

function edgePoints(from, to, bend) {
    const a = nodeAt(from), b = nodeAt(to);
    const dx = b.x - a.x, dy = b.y - a.y;
    const t = 1 / Math.sqrt((dx / RX) ** 2 + (dy / RY) ** 2);
    const p0 = { x: a.x + dx * t, y: a.y + dy * t };
    const p1 = { x: b.x - dx * t, y: b.y - dy * t };
    if (!bend) return [p0, p1];
    return [p0, { x: (p0.x + p1.x) / 2, y: (p0.y + p1.y) / 2 + bend }, p1];
}

const edgeDecor = {
    id: 'edgeDecor',
    afterDatasetsDraw(chart, args, opts) {
        const { ctx, chartArea: a, scales } = chart;
        ctx.save();
        ctx.beginPath();
        ctx.rect(a.left, a.top, a.right - a.left, a.bottom - a.top);
        ctx.clip();
        chart.data.datasets.forEach((ds, i) => {
            if (!ds.arrowSize) return;
            const el = chart.getDatasetMeta(i).data;
            const tip = el[el.length - 1], prev = el[el.length - 2];
            const ang = Math.atan2(tip.y - prev.y, tip.x - prev.x);
            const s = ds.arrowSize;
            ctx.beginPath();
            ctx.moveTo(tip.x, tip.y);
            ctx.lineTo(tip.x - s * Math.cos(ang - 0.42), tip.y - s * Math.sin(ang - 0.42));
            ctx.lineTo(tip.x - s * Math.cos(ang + 0.42), tip.y - s * Math.sin(ang + 0.42));
            ctx.closePath();
            ctx.fillStyle = ds.borderColor;
            ctx.fill();
        });
        ctx.textAlign = 'center';
        ctx.textBaseline = 'middle';
        ctx.font = '10.5px "DejaVu Sans"';
        nodeLabels.forEach((label, i) => {
            const faded = 'brn'.includes(opts.states[i]);
            ctx.fillStyle = faded ? '#dde1e2' : '#111';
            ctx.fillText(label, scales.x.getPixelForValue(nodeX[i]), scales.y.getPixelForValue(nodeY[i]));
        });
        ctx.restore();
    }
};

function drawNetwork(x, w, states, fadedStr, egfrColor, bendScale) {
    const sets = [];
    fadedEdges.forEach(([from, to], i) => {
        const col = fadedColor[fadedStr[i]];
        sets.push({ data: edgePoints(from, to, 0), showLine: true, pointRadius: 0, borderColor: col, borderWidth: 1.6, arrowSize: 11 });
    });
    sets.push({ data: edgePoints('S2', 'O9', 0), showLine: true, pointRadius: 0, borderColor: '#b5b5b5', borderWidth: 2 });
    sets.push({ data: edgePoints('S1', 'O10', 0), showLine: true, pointRadius: 0, borderColor: '#c5c5c5', borderWidth: 1.5 });
    const nodeSet = letter => {
        const data = [];
        [...states].forEach((s, i) => { if (s === letter) data.push({ x: nodeX[i], y: nodeY[i] }); });
        const [fill, stroke] = nodeStyles[letter];
        return { data, pointStyle: ellipseSprite(fill, stroke), pointRadius: 3 };
    };
    ['b', 'r', 'n'].forEach(l => sets.push(nodeSet(l)));
    strongEgfr.forEach(([from, to, bend]) => {
        sets.push({ data: edgePoints(from, to, bend * bendScale), showLine: true, tension: 0.4, pointRadius: 0, borderColor: egfrColor, borderWidth: 2, arrowSize: 14 });
    });
    strongErbb4.forEach(([from, to]) => {
        sets.push({ data: edgePoints(from, to, 0), showLine: true, pointRadius: 0, borderColor: '#2a7db5', borderWidth: 2, arrowSize: 14 });
    });
    ['B', 'R', 'W', 'L'].forEach(l => sets.push(nodeSet(l)));

    new Chart(addCanvas(x, 676, w, 590), {
        type: 'scatter',
        data: { datasets: sets.reverse() },
        plugins: [panelBg, edgeDecor],
        options: {
            ...baseOptions,
            plugins: { legend: { display: false }, tooltip: { enabled: false }, panelBg: { color: '#f0f4f4' }, edgeDecor: { states } },
            scales: {
                x: { type: 'linear', display: false, min: 0, max: w },
                y: { type: 'linear', display: false, min: 0, max: 590, reverse: true }
            }
        }
    });
}

drawNetwork(131, 556, brcaNodes, brcaFaded, '#2a7db5', 1);
drawNetwork(758, 562, kircNodes, kircFaded, '#e21f26', 0);
drawNetwork(1391, 555, luadNodes, luadFaded, '#2a7db5', 1);

// highlight boxes over the BRCA panel
[[104, 659, 597, 298, '#fdb94e'], [90, 818, 510, 468, '#d96a33']].forEach(([l, t, w, h, col]) => {
    const r = document.createElement('div');
    r.className = 'rect';
    r.style.cssText = `left:${l}px;top:${t}px;width:${w}px;height:${h}px;border-color:${col}`;
    fig.appendChild(r);
});

txt(0, 57, 'A', 74);
txt(1, 663, 'B', 72);
txt(-2, 1401, 'C', 72);
txt(339, 624.5, 'BRCA', 50);
txt(979, 624.5, 'KIRC', 50);
txt(1601, 629.5, 'LUAD', 50);
</script>
</body>
</html>
